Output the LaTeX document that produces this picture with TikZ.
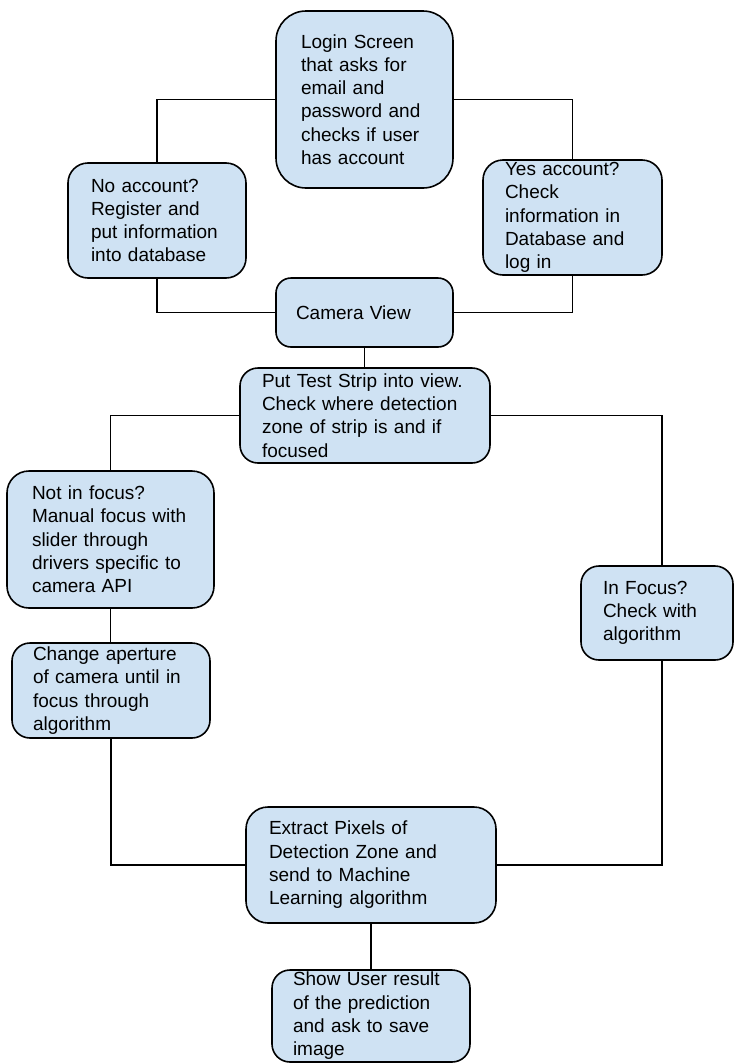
\documentclass[tikz,border=0pt]{standalone}
\usepackage{fontspec}
\setmainfont{Liberation Sans}
\usetikzlibrary{positioning}

\definecolor{boxblue}{RGB}{207,226,243}

\begin{document}
\begin{tikzpicture}[x=1pt,y=-1pt,
	Edge/.style={black,line width=1.6pt},
	Box/.style={rectangle,rounded corners=18pt,fill=boxblue,draw=black,line width=1.6pt,
		align=left,inner ysep=0pt,font=\fontsize{19}{23.3}\selectfont},
]
	\useasboundingbox (0,0) rectangle (734,1063);

	\node[Box,rounded corners=30pt,text width=127pt,inner xsep=25pt,minimum height=177pt] (Login) at (364.5,99.5)
		{Login Screen\\that asks for\\email and\\password and\\checks if user\\has account};
	\node[Box,rounded corners=20pt,text width=132pt,inner xsep=23pt,minimum height=115pt] (NoAcct) at (157,220.5)
		{No account?\\Register and\\put information\\into database};
	\node[Box,rounded corners=20pt,text width=135pt,inner xsep=22pt,minimum height=115pt] (YesAcct) at (572.5,217.5)
		{Yes account?\\Check\\information in\\Database and\\log in};
	\node[Box,rounded corners=15pt,text width=137pt,inner xsep=20pt,minimum height=69pt] (Camera) at (364.5,312.5)
		{Camera View};
	\node[Box,text width=206pt,inner xsep=22pt,minimum height=95pt] (Strip) at (365,415.5)
		{Put Test Strip into view.\\Check where detection\\zone of strip is and if\\focused};
	\node[Box,rounded corners=22pt,text width=157pt,inner xsep=25pt,minimum height=137pt] (NotFocus) at (110.5,539.5)
		{Not in focus?\\Manual focus with\\slider through\\drivers specific to\\camera API};
	\node[Box,text width=156pt,inner xsep=21pt,minimum height=95pt] (Aperture) at (111,690.5)
		{Change aperture\\of camera until in\\focus through\\algorithm};
	\node[Box,text width=108pt,inner xsep=22pt,minimum height=94pt] (InFocus) at (657,613)
		{In Focus?\\Check with\\algorithm};
	\node[Box,rounded corners=22pt,text width=204pt,inner xsep=23pt,minimum height=116pt] (Extract) at (371,865)
		{Extract Pixels of\\Detection Zone and\\send to Machine\\Learning algorithm};
	\node[Box,text width=156pt,inner xsep=21pt,minimum height=92pt] (Show) at (371,1016)
		{Show User result\\of the prediction\\and ask to save\\image};

	\draw[Edge] (Login.west) -| (NoAcct.north);
	\draw[Edge] (Login.east) -| (YesAcct.north);
	\draw[Edge] (NoAcct.south) |- (Camera.west);
	\draw[Edge] (YesAcct.south) |- (Camera.east);
	\draw[Edge] (Camera.south) -- (Camera.south |- Strip.north);
	\draw[Edge] (Strip.west) -| (NotFocus.north);
	\draw[Edge] (Strip.east) -| ([xshift=5pt]InFocus.north);
	\draw[Edge] (NotFocus.south) -- (NotFocus.south |- Aperture.north);
	\draw[Edge] (Aperture.south) |- (Extract.west);
	\draw[Edge] ([xshift=5pt]InFocus.south) |- (Extract.east);
	\draw[Edge] (Extract.south) -- (Show.north);
\end{tikzpicture}
\end{document}
